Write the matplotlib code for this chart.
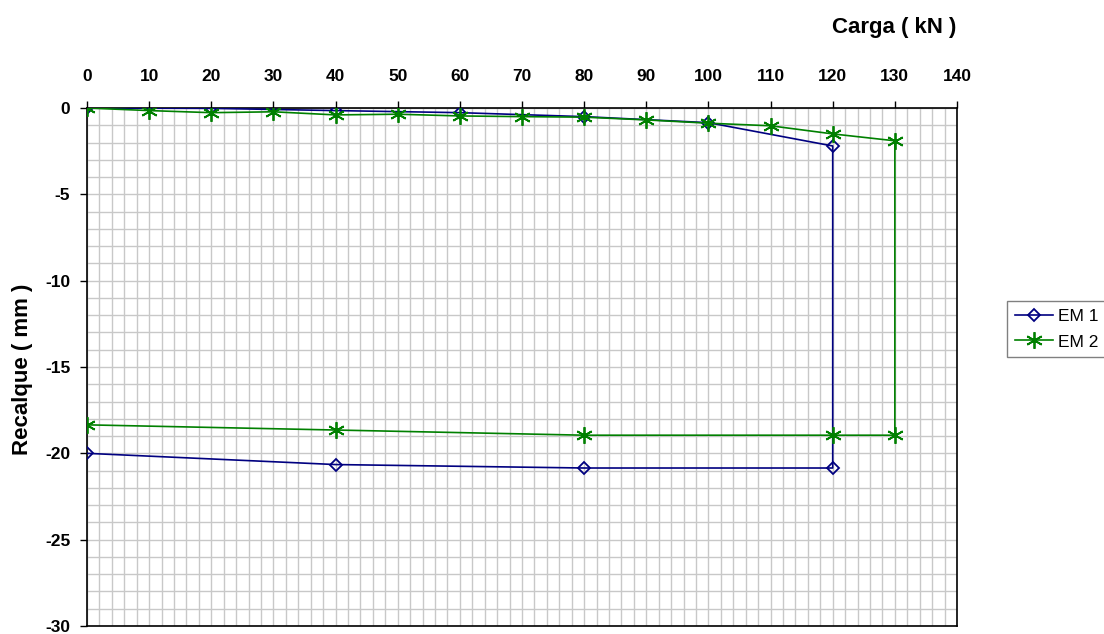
import matplotlib.pyplot as plt
from matplotlib.ticker import MultipleLocator

plt.rcParams['font.family'] = ['Liberation Sans', 'DejaVu Sans']
plt.rcParams['axes.unicode_minus'] = False

# EM 1 : carga (kN) x recalque (mm), loading then unloading
em1_carga = [0, 20, 40, 60, 80, 100, 120, 120, 80, 40, 0]
em1_recalque = [0, -0.02, -0.15, -0.27, -0.5, -0.85, -2.2, -20.85, -20.85, -20.65, -20.0]

# EM 2
em2_carga = [0, 10, 20, 30, 40, 50, 60, 70, 80, 90, 100, 110, 120, 130,
             130, 120, 80, 40, 0]
em2_recalque = [0, -0.15, -0.27, -0.22, -0.4, -0.36, -0.46, -0.5, -0.53, -0.69,
                -0.88, -1.03, -1.5, -1.9, -18.95, -18.95, -18.95, -18.65, -18.35]

fig = plt.figure(figsize=(11.04, 6.34), dpi=100)
ax = fig.add_axes([87 / 1104, 1 - 626 / 634, 870 / 1104, (626 - 108) / 634])

ax.plot(em1_carga, em1_recalque, color='#000080', lw=1.2, marker='D',
        ms=6.5, mfc='none', mec='#000080', mew=1.3, label='EM 1', zorder=3)
ax.plot(em2_carga, em2_recalque, color='#008000', lw=1.2, marker=(6, 2, 0),
        ms=12, mec='#008000', mew=1.3, label='EM 2', zorder=3)

ax.set_xlim(0, 140)
ax.set_ylim(-30, 0)
ax.xaxis.tick_top()
ax.xaxis.set_major_locator(MultipleLocator(10))
ax.xaxis.set_minor_locator(MultipleLocator(2))
ax.yaxis.set_major_locator(MultipleLocator(5))
ax.yaxis.set_minor_locator(MultipleLocator(1))
ax.tick_params(which='major', direction='out', length=5, width=1,
               labelsize=12.5)
ax.tick_params(axis='x', pad=12)
ax.tick_params(axis='y', pad=7)
ax.tick_params(which='minor', length=0)
for lab in ax.get_xticklabels() + ax.get_yticklabels():
    lab.set_fontweight('bold')

ax.grid(which='both', color='#c8c8c8', lw=1)
ax.set_axisbelow(True)
for sp in ax.spines.values():
    sp.set_color('black')
    sp.set_linewidth(1.2)

fig.text(894 / 1104, 1 - 27 / 634, 'Carga ( kN )', fontsize=16,
         fontweight='bold', ha='center', va='center')
fig.text(23 / 1104, 1 - 369 / 634, 'Recalque ( mm )', fontsize=16,
         fontweight='bold', ha='center', va='center', rotation=90)

ax.legend(loc='upper left', bbox_to_anchor=(1007 / 1104, 1 - 301 / 634),
          bbox_transform=fig.transFigure, fontsize=12.5, frameon=True,
          fancybox=False, edgecolor='#606060', borderpad=0.45,
          handlelength=2.2, handletextpad=0.3, labelspacing=0.6,
          borderaxespad=0)

fig.savefig('out.png', dpi=100)
